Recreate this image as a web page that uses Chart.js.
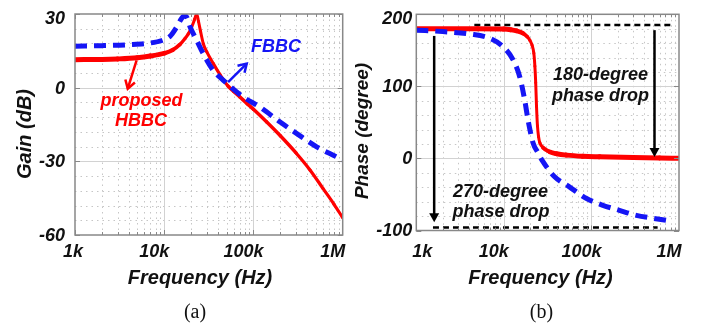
<!DOCTYPE html>
<html>
<head>
<meta charset="utf-8">
<script src="https://cdn.jsdelivr.net/npm/chart.js@4"></script>
<style>
  html, body { margin: 0; padding: 0; background: #fff; }
  #wrap { position: relative; width: 706px; height: 326px; }
  canvas { position: absolute; top: 0; }
</style>
</head>
<body>
<div id="wrap">
  <canvas id="gain" width="353" height="326" style="left:0"></canvas>
  <canvas id="phase" width="353" height="326" style="left:353px"></canvas>
</div>
<script>
// axes
const FREQ_TICKS = [1e3, 1e4, 1e5, 1e6];
const FREQ_TICK_LABELS = ['1k', '10k', '100k', '1M'];
const GAIN_TICKS = [-60, -30, 0, 30];
const PHASE_TICKS = [-100, 0, 100, 200];

// gain (dB)
const gainFbbcFreq = [1000, 2000, 4000, 7000, 9400, 11600, 13800, 15700, 16800, 18000, 19500, 23100, 27400, 35500, 46000, 77000, 118000, 199000, 306000, 516000, 855000, 1000000];
const gainFbbc     = [16.9, 17.1, 17.5, 18.2, 19.2, 20.9, 24.7, 28.3, 29.3, 28.5, 24.7, 19.3, 13.8, 7.0, 3.0, -3.8, -7.9, -14.0, -18.7, -24.2, -28.2, -29.5];
const gainHbbcFreq = [1000, 2000, 3000, 5000, 7000, 10000, 12500, 15000, 17100, 18600, 20300, 22000, 23100, 24200, 25500, 27400, 30000, 35500, 42000, 52000, 60000, 70000, 85000, 100000, 140000, 200000, 300000, 430000, 600000, 800000, 1000000];
const gainHbbc     = [11.4, 11.5, 11.7, 12.2, 12.9, 14.0, 15.4, 17.6, 20.0, 21.9, 24.7, 28.0, 30.0, 27.0, 23.0, 17.9, 14.6, 9.8, 5.4, 0.6, -1.5, -3.7, -6.5, -8.8, -13.9, -19.6, -26.6, -33.5, -41.0, -47.5, -53.0];

// phase (degree)
const phaseFbbcFreq = [1000, 2000, 4100, 6900, 9800, 12800, 15200, 17300, 18900, 21600, 24500, 27500, 38000, 56000, 88000, 135000, 209000, 326000, 505000, 780000, 850000];
const phaseFbbc     = [178, 176, 172.6, 166.7, 155, 136.5, 113, 81, 53, 21, 8, -3, -25.5, -39.4, -55.6, -65, -72, -79, -83, -86.7, -87.5];
const phaseHbbcFreq = [1000, 5000, 10000, 12000, 14000, 16600, 18500, 19800, 21000, 22000, 22600, 23100, 23600, 24200, 24900, 25700, 28000, 33500, 40000, 52000, 80000, 124000, 300000, 600000, 1000000];
const phaseHbbc     = [180, 180, 179.5, 178.5, 177, 173.6, 169, 164, 157, 146, 128, 105, 72, 45, 30, 22, 15, 9, 6.5, 4.6, 3, 2.3, 1.2, 0.6, 0.3];

// annotation lines / arrows (data coordinates)
const refLineFreq  = [[4600, 810000], [1550, 570000]];
const refLineLevel = [185, -96];
const phaseArrowFreq = [1600, 525000];
const phaseArrowFrom = [170, 178];
const phaseArrowTo   = [-88.5, 2];
const gainArrowFreq  = [[52000, 84000], [4900, 3900]];
const gainArrowLevel = [[2.3, 9.8], [11.1, -0.4]];

const RED = '#ff0000';
const BLUE = '#1515f5';
const BOLD = (s) => `bold italic ${s}px "Liberation Sans", Arial, sans-serif`;

const pts = (xs, ys) => xs.map((f, i) => ({ x: f, y: ys[i] }));

// thick when flat, thinner when steep
const varWidth = (c) => {
  const dx = c.p1.x - c.p0.x, dy = c.p1.y - c.p0.y;
  const k = Math.abs(dx) / (Math.hypot(dx, dy) || 1);
  return 3 + 2 * Math.pow(k, 4);
};

function blueSet(xs, ys) {
  return { data: pts(xs, ys), borderColor: BLUE, borderWidth: 5, borderDash: [12, 7],
           cubicInterpolationMode: 'monotone', tension: 0.4 };
}
function redSet(xs, ys) {
  return { data: pts(xs, ys), borderColor: RED, borderWidth: 4, borderCapStyle: 'round',
           borderJoinStyle: 'round', cubicInterpolationMode: 'monotone', tension: 0.4,
           segment: { borderWidth: varWidth } };
}

function arrow(ctx, x0, y0, x1, y1, color, filled) {
  const ang = Math.atan2(y1 - y0, x1 - x0);
  const L = filled ? 9 : 8, W = 5;
  ctx.save();
  ctx.strokeStyle = color; ctx.fillStyle = color;
  ctx.lineWidth = 2.5; ctx.setLineDash([]);
  ctx.beginPath();
  ctx.moveTo(x0, y0);
  ctx.lineTo(filled ? x1 - Math.cos(ang) * L * 0.8 : x1, filled ? y1 - Math.sin(ang) * L * 0.8 : y1);
  ctx.stroke();
  const bx = x1 - Math.cos(ang) * L, by = y1 - Math.sin(ang) * L;
  const nx = -Math.sin(ang) * W, ny = Math.cos(ang) * W;
  ctx.beginPath();
  ctx.moveTo(bx + nx, by + ny); ctx.lineTo(x1, y1); ctx.lineTo(bx - nx, by - ny);
  if (filled) { ctx.closePath(); ctx.fill(); } else { ctx.stroke(); }
  ctx.restore();
}

const figurePlugin = {
  id: 'figure',
  beforeDatasetsDraw(chart, args, o) {
    const { ctx, chartArea: a, scales: { x, y } } = chart;
    ctx.save();
    ctx.lineWidth = 1;
    ctx.strokeStyle = '#c6c6c6';
    ctx.setLineDash([1.5, 4]);
    ctx.beginPath();
    for (let d = FREQ_TICKS[0]; d < FREQ_TICKS[FREQ_TICKS.length - 1]; d *= 10) {
      for (let m = 2; m < 10; m++) {
        const px = Math.round(x.getPixelForValue(d * m)) + 0.5;
        ctx.moveTo(px, a.top); ctx.lineTo(px, a.bottom);
      }
    }
    for (let v = o.yTicks[0] + o.minorStep; v < o.yTicks[o.yTicks.length - 1]; v += o.minorStep) {
      if (o.yTicks.includes(v)) continue;
      const py = Math.round(y.getPixelForValue(v)) + 0.5;
      ctx.moveTo(a.left, py); ctx.lineTo(a.right, py);
    }
    ctx.stroke();
    ctx.setLineDash([]);
    ctx.strokeStyle = '#d2d2d2';
    ctx.beginPath();
    FREQ_TICKS.slice(1, -1).forEach(f => {
      const px = Math.round(x.getPixelForValue(f)) + 0.5;
      ctx.moveTo(px, a.top); ctx.lineTo(px, a.bottom);
    });
    o.yTicks.slice(1, -1).forEach(v => {
      const py = Math.round(y.getPixelForValue(v)) + 0.5;
      ctx.moveTo(a.left, py); ctx.lineTo(a.right, py);
    });
    ctx.stroke();
    ctx.restore();
  },
  afterDatasetsDraw(chart, args, o) {
    const { ctx, chartArea: a, scales: { x, y } } = chart;
    ctx.save();
    // frame and tick marks
    ctx.strokeStyle = '#888';
    ctx.lineWidth = 1;
    ctx.beginPath();
    for (let d = FREQ_TICKS[0]; d < FREQ_TICKS[FREQ_TICKS.length - 1]; d *= 10) {
      for (let m = 1; m < 10; m++) {
        const px = Math.round(x.getPixelForValue(d * m)) + 0.5;
        const len = m === 1 ? 5 : 3;
        ctx.moveTo(px, a.bottom); ctx.lineTo(px, a.bottom - len);
        ctx.moveTo(px, a.top); ctx.lineTo(px, a.top + len);
      }
    }
    o.yTicks.forEach(v => {
      const py = Math.round(y.getPixelForValue(v)) + 0.5;
      ctx.moveTo(a.left, py); ctx.lineTo(a.left + 5, py);
      ctx.moveTo(a.right, py); ctx.lineTo(a.right - 5, py);
    });
    ctx.stroke();
    ctx.lineWidth = 1.5;
    ctx.strokeRect(a.left, a.top, a.right - a.left, a.bottom - a.top);
    ctx.restore();

    o.arrows.forEach(ar => arrow(ctx,
      x.getPixelForValue(ar.f0), y.getPixelForValue(ar.v0),
      x.getPixelForValue(ar.f1), y.getPixelForValue(ar.v1), ar.color, ar.filled));
  },
  afterDraw(chart, args, o) {
    const { ctx, chartArea: a, scales: { x, y } } = chart;
    ctx.save();
    ctx.fillStyle = '#111';
    // tick labels
    ctx.font = BOLD(18);
    ctx.textAlign = 'right'; ctx.textBaseline = 'middle';
    o.yTicks.forEach(v => {
      const py = Math.max(y.getPixelForValue(v) + 1, a.top + 5);
      ctx.fillText(String(v), a.left - o.yPad, py);
    });
    ctx.textAlign = 'center'; ctx.textBaseline = 'alphabetic';
    FREQ_TICKS.forEach((f, i) => {
      const px = x.getPixelForValue(f) + (i === 0 ? o.firstShift : -10);
      ctx.fillText(FREQ_TICK_LABELS[i], px, 257);
    });
    // axis titles
    ctx.font = BOLD(20);
    ctx.fillText('Frequency (Hz)', o.xTitleX, 284);
    ctx.save();
    ctx.translate(o.yTitle.x, o.yTitle.y);
    ctx.rotate(-Math.PI / 2);
    ctx.font = BOLD(o.yTitle.size);
    ctx.textBaseline = 'middle';
    ctx.fillText(o.yTitle.text, 0, 0);
    ctx.restore();
    // annotations
    ctx.font = BOLD(18);
    ctx.textBaseline = 'middle';
    o.notes.forEach(n => { ctx.fillStyle = n.color; ctx.fillText(n.text, n.x, n.y); });
    // caption
    ctx.fillStyle = '#111';
    ctx.font = '20px "Liberation Serif", "Times New Roman", serif';
    ctx.textBaseline = 'alphabetic';
    ctx.fillText(o.caption, o.captionX, 318);
    ctx.restore();
  }
};

function makeChart(id, datasets, c) {
  return new Chart(document.getElementById(id), {
    type: 'line',
    data: { datasets },
    options: {
      responsive: false,
      animation: false,
      devicePixelRatio: 1,
      layout: { padding: { top: c.top, right: c.right, left: 0, bottom: 0 } },
      elements: { point: { radius: 0 } },
      plugins: {
        legend: { display: false },
        tooltip: { enabled: false },
        figure: c.fig
      },
      scales: {
        x: {
          type: 'logarithmic', min: FREQ_TICKS[0], max: FREQ_TICKS[FREQ_TICKS.length - 1],
          ticks: { display: false }, grid: { display: false }, border: { display: false },
          afterFit: s => { s.height = c.xHeight; }
        },
        y: {
          min: c.fig.yTicks[0], max: c.fig.yTicks[c.fig.yTicks.length - 1],
          ticks: { display: false }, grid: { display: false }, border: { display: false },
          afterFit: s => { s.width = c.yWidth; }
        }
      }
    },
    plugins: [figurePlugin]
  });
}

const refSets = refLineFreq.map((fr, i) => ({
  data: pts(fr, [refLineLevel[i], refLineLevel[i]]),
  borderColor: '#000', borderWidth: 2.5, borderDash: [6, 4]
}));

makeChart('gain', [blueSet(gainFbbcFreq, gainFbbc), redSet(gainHbbcFreq, gainHbbc)], {
  top: 14, right: 10.3, xHeight: 91, yWidth: 75,
  fig: {
    yTicks: GAIN_TICKS, minorStep: 6, yPad: 10, firstShift: -2, xTitleX: 200,
    yTitle: { text: 'Gain (dB)', x: 25, y: 134, size: 20 },
    caption: '(a)', captionX: 195,
    arrows: [
      { f0: gainArrowFreq[0][0], v0: gainArrowLevel[0][0], f1: gainArrowFreq[0][1], v1: gainArrowLevel[0][1], color: BLUE },
      { f0: gainArrowFreq[1][0], v0: gainArrowLevel[1][0], f1: gainArrowFreq[1][1], v1: gainArrowLevel[1][1], color: RED }
    ],
    notes: [
      { text: 'FBBC', x: 276, y: 47.5, color: BLUE },
      { text: 'proposed', x: 141.5, y: 101, color: RED },
      { text: 'HBBC', x: 141, y: 121.5, color: RED }
    ]
  }
});

makeChart('phase', [blueSet(phaseFbbcFreq, phaseFbbc), redSet(phaseHbbcFreq, phaseHbbc), ...refSets], {
  top: 14.3, right: 27, xHeight: 95.5, yWidth: 63.3,
  fig: {
    yTicks: PHASE_TICKS, minorStep: 20, yPad: 4, firstShift: 6, xTitleX: 187.5,
    yTitle: { text: 'Phase (degree)', x: 10, y: 131, size: 19 },
    caption: '(b)', captionX: 188.5,
    arrows: phaseArrowFreq.map((f, i) => ({ f0: f, v0: phaseArrowFrom[i], f1: f, v1: phaseArrowTo[i], color: '#000', filled: true })),
    notes: [
      { text: '180-degree', x: 247.5, y: 75, color: '#111' },
      { text: 'phase drop', x: 247.5, y: 96.5, color: '#111' },
      { text: '270-degree', x: 147.5, y: 192, color: '#111' },
      { text: 'phase drop', x: 148, y: 212, color: '#111' }
    ]
  }
});
</script>
</body>
</html>
